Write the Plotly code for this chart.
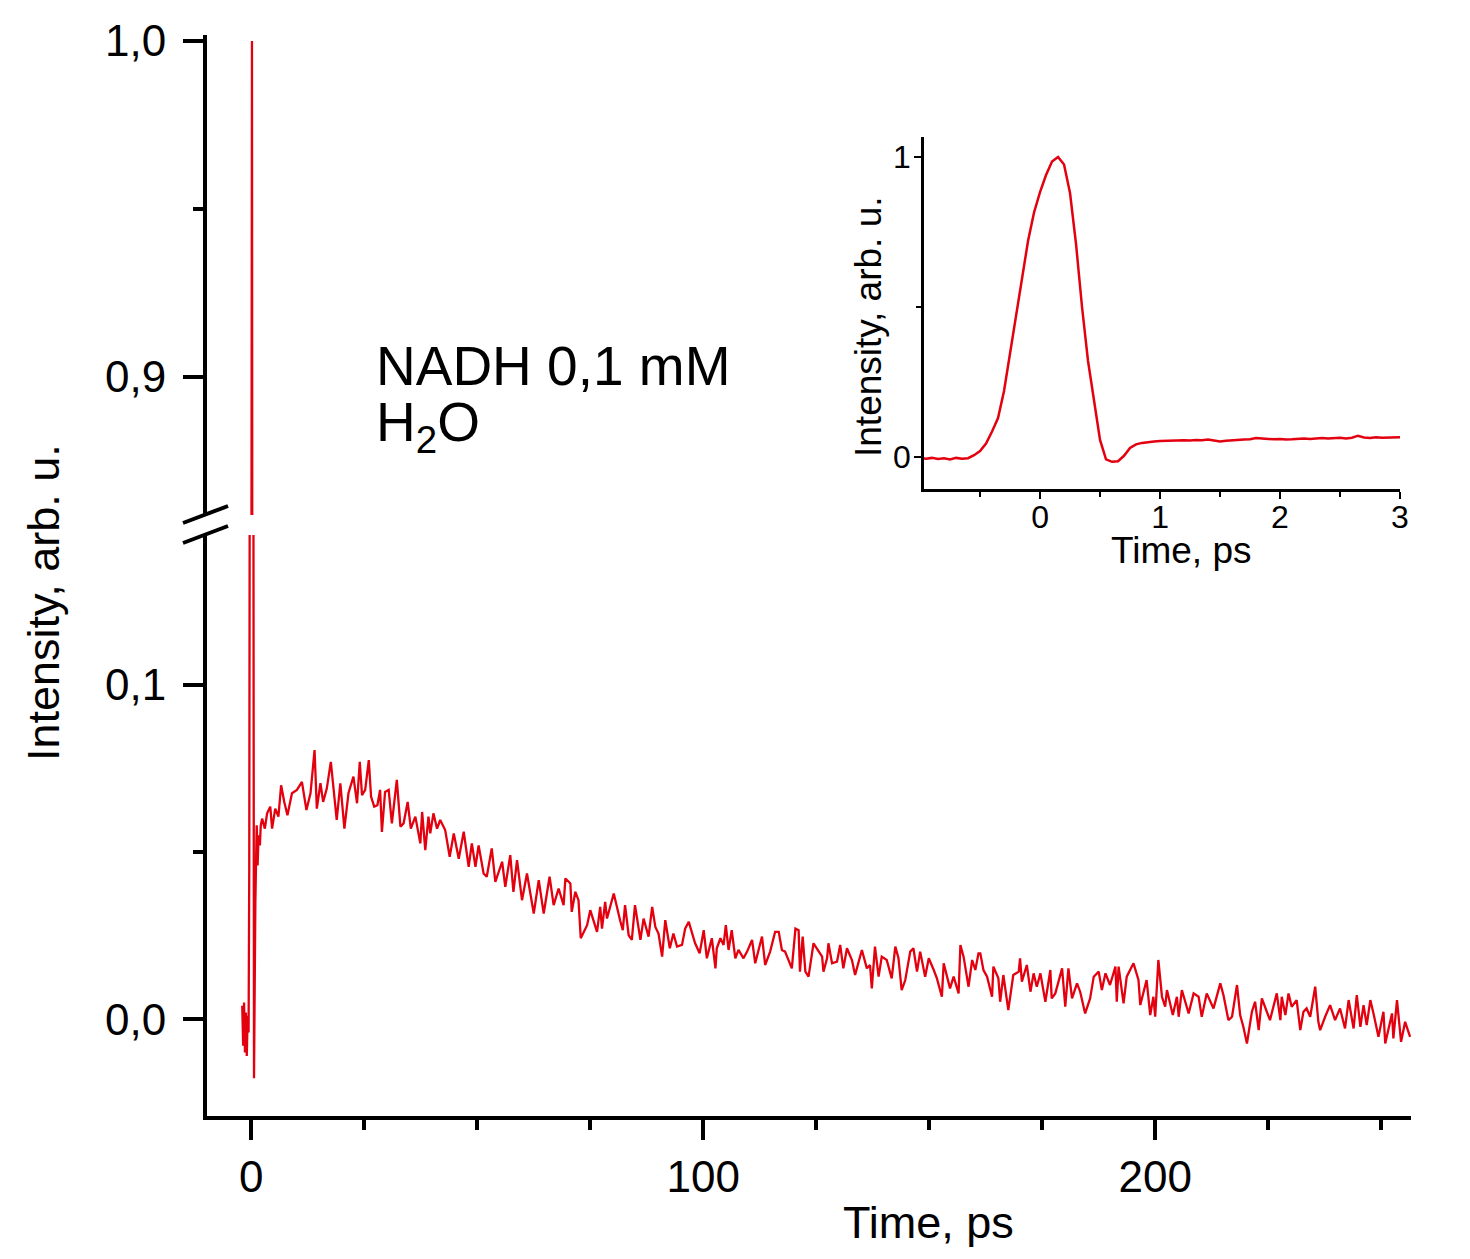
import plotly.graph_objects as go

# colours / fonts
RED = '#E3000F'
FONT = 'Liberation Sans, Arial, sans-serif'
# page has an 8px body margin, so the figure is a bit smaller and positions are shifted
OFF = 8
W, H = 1470 - OFF, 1259 - OFF

# ---- main trace (time in ps, normalised intensity) ----
main_t = [
    -2.0, -1.8, -1.6, -1.4, -1.2, -1.0, -0.8, -0.6, -0.45, -0.3, -0.15, 0.0,
    0.15, 0.3, 0.45, 0.6, 0.9, 1.2, 1.4, 1.6, 1.9, 2.1, 2.4, 3.0,
    3.5, 4.2, 4.6, 5.3, 6.0, 6.6, 7.3, 8.0, 9.0, 10.1, 11.2, 12.2, 13.1, 14.0,
    14.5, 15.3, 15.9, 16.7, 17.6, 18.2, 18.9, 19.7, 20.6, 21.5, 22.6, 23.4,
    24.0, 24.5, 25.2, 26.0, 26.5, 27.2, 27.9, 28.5, 28.9, 29.6, 30.4, 31.1,
    32.2, 33.0, 33.7, 34.6, 35.3, 36.3, 37.4, 37.8, 38.5, 39.2, 39.6, 40.3,
    41.1, 41.8, 42.9, 43.9, 44.8, 45.9, 47.0, 48.1, 48.8, 49.6, 50.3, 51.4,
    52.1, 53.2, 54.0, 55.5, 56.2, 57.3, 58.0, 58.8, 59.9, 61.0, 62.5, 63.6,
    64.7, 66.0, 66.9, 68.0, 69.1, 69.5, 70.6, 70.9, 71.7, 72.4, 72.9, 74.3,
    75.0, 76.5, 77.2, 77.6, 78.3, 78.7, 80.2, 81.6, 82.2, 82.7, 83.5, 84.2,
    84.9, 86.1, 86.8, 87.9, 88.7, 89.4, 90.1, 90.9, 91.6, 92.6, 93.4, 94.2,
    95.3, 96.0, 96.8, 98.2, 99.2, 100.1, 100.8, 101.9, 102.7, 103.0, 103.8,
    104.5, 105.0, 105.6, 106.3, 107.1, 107.8, 108.9, 109.7, 110.8, 111.5,
    113.0, 113.7, 114.8, 115.9, 116.7, 117.4, 118.1, 119.6, 120.4, 121.1,
    121.4, 122.0, 122.6, 123.3, 124.4, 125.1, 126.3, 126.6, 127.4, 127.7,
    128.5, 129.6, 130.3, 131.0, 131.8, 132.9, 133.6, 134.4, 135.1, 136.2,
    136.9, 137.3, 138.0, 138.8, 139.5, 140.6, 141.7, 142.5, 143.2, 143.9,
    144.7, 145.8, 146.5, 147.3, 148.0, 149.1, 149.9, 151.0, 151.7, 152.8,
    153.2, 154.6, 155.4, 156.5, 156.9, 157.6, 158.7, 159.5, 160.2, 160.9,
    161.3, 162.0, 162.8, 163.9, 164.2, 165.3, 165.7, 166.4, 167.5, 168.6,
    169.8, 170.1, 170.5, 171.6, 172.4, 173.1, 173.8, 174.6, 175.7, 176.8,
    177.1, 177.9, 179.4, 180.1, 180.8, 181.6, 182.7, 183.4, 184.5, 185.6,
    186.4, 187.5, 188.2, 189.0, 190.0, 191.2, 191.5, 191.9, 193.0, 193.7,
    195.2, 196.3, 196.7, 198.1, 198.9, 199.6, 200.0, 200.7, 201.5, 202.2,
    202.6, 203.9, 204.8, 205.2, 205.9, 207.4, 208.5, 209.6, 210.3, 211.4,
    212.9, 214.4, 215.1, 216.2, 217.0, 218.1, 218.8, 219.5, 220.3, 221.4,
    222.1, 222.9, 223.6, 224.7, 225.4, 226.9, 227.7, 228.0, 228.8, 229.5,
    230.2, 231.3, 232.1, 232.8, 233.5, 234.3, 235.4, 236.1, 236.5, 237.6,
    238.7, 239.8, 240.9, 242.0, 242.8, 243.9, 244.6, 245.4, 246.1, 246.8,
    247.6, 248.3, 249.4, 250.5, 250.9, 252.4, 252.7, 253.5, 254.4, 255.3, 256.4,
]
main_I = [
    0.004, -0.008, 0.005, -0.010, 0.002, -0.011, 0.001, -0.004, 0.045, 0.22, 0.595, 0.883,
    1.0, 0.71, 0.185, -0.0177, 0.035, 0.058, 0.046, 0.055, 0.052, 0.058, 0.060, 0.057,
    0.0616, 0.0636, 0.057, 0.063, 0.0606, 0.070, 0.065, 0.061, 0.0676, 0.0686, 0.071, 0.0626, 0.0676, 0.0805,
    0.063, 0.0706, 0.065, 0.069, 0.077, 0.0686, 0.0596, 0.0706, 0.057, 0.0676, 0.0726, 0.0646,
    0.077, 0.067, 0.0686, 0.0775, 0.0666, 0.0636, 0.064, 0.0686, 0.056, 0.068, 0.0686, 0.0586,
    0.0716, 0.0576, 0.0586, 0.065, 0.057, 0.0606, 0.0526, 0.062, 0.0506, 0.0606, 0.0556, 0.0616,
    0.057, 0.0596, 0.0566, 0.0486, 0.0556, 0.048, 0.0561, 0.0456, 0.0526, 0.0456, 0.052, 0.0436,
    0.0426, 0.0511, 0.0411, 0.0471, 0.0396, 0.0491, 0.0381, 0.0476, 0.0356, 0.0436, 0.0316, 0.0416,
    0.0316, 0.0426, 0.0341, 0.0391, 0.0341, 0.0421, 0.0406, 0.0321, 0.0381, 0.0356, 0.0242, 0.0281,
    0.0326, 0.0261, 0.0336, 0.0271, 0.0351, 0.0301, 0.0376, 0.0296, 0.0266, 0.0341, 0.0251, 0.0237,
    0.0341, 0.0237, 0.0301, 0.0247, 0.0336, 0.0276, 0.0256, 0.0187, 0.0296, 0.0212, 0.0256, 0.0217,
    0.0222, 0.0271, 0.0291, 0.0227, 0.0197, 0.0266, 0.0182, 0.0242, 0.0152, 0.0212, 0.0242,
    0.0222, 0.0281, 0.0207, 0.0266, 0.0182, 0.0207, 0.0182, 0.0202, 0.0237, 0.0167,
    0.0247, 0.0162, 0.0202, 0.0261, 0.0261, 0.0207, 0.0202, 0.0152, 0.0271, 0.0266,
    0.0142, 0.0247, 0.0142, 0.0127, 0.0227, 0.0212, 0.0187, 0.0142, 0.0182, 0.0227,
    0.0167, 0.0172, 0.0222, 0.0152, 0.0212, 0.0177, 0.0132, 0.0172, 0.0207, 0.0152,
    0.0162, 0.0092, 0.0217, 0.0127, 0.0187, 0.0177, 0.0122, 0.0217, 0.0182, 0.0087,
    0.0117, 0.0202, 0.0212, 0.0142, 0.0202, 0.0127, 0.0182, 0.0147, 0.0122, 0.0067,
    0.0167, 0.0092, 0.0127, 0.0077, 0.0222, 0.0187, 0.0097, 0.0177, 0.0147, 0.0197,
    0.0197, 0.0147, 0.0127, 0.0067, 0.0157, 0.0122, 0.0052, 0.0132, 0.0027, 0.0132,
    0.0142, 0.0182, 0.0112, 0.0162, 0.0082, 0.0137, 0.0097, 0.0137, 0.0052, 0.0147,
    0.0062, 0.0077, 0.0152, 0.0037, 0.0152, 0.0062, 0.0107, 0.0082, 0.0017, 0.0062,
    0.0127, 0.0142, 0.0087, 0.0137, 0.0102, 0.0157, 0.0052, 0.0157, 0.0047, 0.0127,
    0.0167, 0.0117, 0.0042, 0.0117, 0.0012, 0.0067, 0.0007, 0.0177, 0.0067, 0.0037,
    0.0087, 0.0012, 0.0067, 0.0007, 0.0087, 0.0017, 0.0077, 0.0067, 0.0007, 0.0077,
    0.0032, 0.0107, 0.0072, -0.0003, 0.0007, 0.0102, 0.0012, -0.0023, -0.0073, 0.0022,
    0.0052, -0.0033, 0.0062, 0.0022, -0.0003, 0.0077, -0.0003, 0.0067, 0.0012, 0.0077,
    0.0037, 0.0057, -0.0033, 0.0022, 0.0032, 0.0007, 0.0097, -0.0008, -0.0033, 0.0007,
    0.0042, -0.0003, 0.0032, -0.0028, 0.0057, -0.0028, 0.0072, -0.0023, 0.0042, -0.0018,
    0.0057, 0.0017, -0.0053, 0.0022, -0.0073, 0.0017, -0.0058, 0.0057, -0.0068, -0.0008, -0.0053,
]

# ---- inset trace (first 3 ps) ----
inset_t = [
    -1.00, -0.95, -0.90, -0.85, -0.80, -0.75, -0.70, -0.65, -0.60, -0.55,
    -0.50, -0.45, -0.40, -0.35, -0.30, -0.25, -0.20, -0.15, -0.10, -0.05,
    0.00, 0.05, 0.10, 0.15, 0.20, 0.25, 0.30, 0.35, 0.40, 0.45,
    0.50, 0.55, 0.60, 0.65, 0.70, 0.75, 0.80, 0.85, 0.90, 0.95,
    1.00, 1.05, 1.10, 1.15, 1.20, 1.25, 1.30, 1.35, 1.40, 1.45,
    1.50, 1.55, 1.60, 1.65, 1.70, 1.75, 1.80, 1.85, 1.90, 1.95,
    2.00, 2.05, 2.10, 2.15, 2.20, 2.25, 2.30, 2.35, 2.40, 2.45,
    2.50, 2.55, 2.60, 2.65, 2.70, 2.75, 2.80, 2.85, 2.90, 2.95, 3.00,
]
inset_I = [
    -0.004, -0.006, -0.003, -0.007, -0.004, -0.008, -0.003, -0.006, -0.004, 0.006,
    0.020, 0.045, 0.085, 0.130, 0.220, 0.350, 0.480, 0.595, 0.720, 0.815,
    0.883, 0.940, 0.985, 1.000, 0.975, 0.880, 0.710, 0.500, 0.320, 0.185,
    0.057, -0.008, -0.016, -0.014, 0.004, 0.030, 0.042, 0.047, 0.050, 0.052,
    0.053, 0.054, 0.055, 0.054, 0.056, 0.055, 0.057, 0.056, 0.058, 0.055,
    0.052, 0.054, 0.056, 0.057, 0.058, 0.059, 0.063, 0.062, 0.060, 0.059,
    0.060, 0.058, 0.059, 0.061, 0.062, 0.060, 0.062, 0.063, 0.062, 0.063,
    0.064, 0.062, 0.064, 0.071, 0.065, 0.063, 0.066, 0.064, 0.065, 0.066, 0.066,
]


def fx(p):
    # screen pixel -> paper fraction
    return (p - OFF) / W


def fy(p):
    return 1 - (p - OFF) / H


fig = go.Figure()

# lower and upper panels of the broken axis show the same curve
fig.add_trace(go.Scatter(x=main_t, y=main_I, mode='lines', xaxis='x', yaxis='y',
                         line=dict(color=RED, width=2.3), showlegend=False))
fig.add_trace(go.Scatter(x=main_t, y=main_I, mode='lines', xaxis='x2', yaxis='y2',
                         line=dict(color=RED, width=2.3), showlegend=False))
fig.add_trace(go.Scatter(x=inset_t, y=inset_I, mode='lines', xaxis='x3', yaxis='y3',
                         line=dict(color=RED, width=2.5), showlegend=False))

main_ax = dict(showline=True, linewidth=4, linecolor='black', ticks='outside',
               ticklen=20, tickwidth=4, tickcolor='black', showgrid=False,
               zeroline=False, automargin=False, tickfont=dict(size=44, color='black'))
inset_ax = dict(showline=True, linewidth=2.5, linecolor='black', ticks='outside',
                ticklen=7, tickwidth=2, tickcolor='black', showgrid=False,
                zeroline=False, automargin=False, tickfont=dict(size=32, color='black'))
main_minor = dict(ticks='outside', ticklen=10, tickwidth=4, tickcolor='black')
inset_minor = dict(ticks='outside', ticklen=5, tickwidth=2, tickcolor='black')

xdom = [fx(207), fx(1411)]
xrng = [-9.8, 256.6]

fig.update_layout(
    width=W, height=H,
    margin=dict(l=0, r=0, t=0, b=0),
    paper_bgcolor='white', plot_bgcolor='rgba(0,0,0,0)',
    font=dict(family=FONT, color='black'),
    separators=',.',
    xaxis=dict(main_ax, domain=xdom, range=xrng, anchor='y',
               tickvals=[0, 100, 200], ticklabelstandoff=-1,
               minor=dict(main_minor, tickvals=[25, 50, 75, 125, 150, 175, 225, 250])),
    xaxis2=dict(domain=xdom, range=xrng, anchor='y2', visible=False),
    yaxis=dict(main_ax, domain=[fy(1116), fy(535)], range=[-0.0290, 0.1449], anchor='x',
               tickvals=[0, 0.1], tickformat='.1f', ticklabelstandoff=8,
               minor=dict(main_minor, tickvals=[0.05])),
    yaxis2=dict(main_ax, domain=[fy(515), fy(35)], range=[0.8589, 1.0018], anchor='x2',
                tickvals=[0.9, 1.0], tickformat='.1f', ticklabelstandoff=8,
                minor=dict(main_minor, tickvals=[0.95])),
    xaxis3=dict(inset_ax, domain=[fx(924), fx(1400)], range=[-0.967, 3.0], anchor='y3',
                tickvals=[0, 1, 2, 3], ticklabelstandoff=-9,
                minor=dict(inset_minor, tickvals=[-0.5, 0.5, 1.5, 2.5])),
    yaxis3=dict(inset_ax, domain=[fy(489), fy(137)], range=[-0.1067, 1.0667], anchor='x3',
                tickvals=[0, 1], ticklabelstandoff=-3,
                minor=dict(inset_minor, tickvals=[0.5])),
)

# axis break marks
for y0, y1 in [(523, 506), (543, 526)]:
    fig.add_shape(type='line', xref='paper', yref='paper',
                  x0=fx(183), y0=fy(y0), x1=fx(228), y1=fy(y1),
                  line=dict(color='black', width=4))

ann = [
    dict(text='Intensity, arb. u.', x=fx(43), y=fy(603), textangle=-90,
         font=dict(size=45), xanchor='center', yanchor='middle'),
    dict(text='Time, ps', x=fx(929), y=fy(1222), font=dict(size=45),
         xanchor='center', yanchor='middle'),
    dict(text='NADH 0,1 mM', x=fx(374), y=fy(366), font=dict(size=55),
         xanchor='left', yanchor='middle'),
    dict(text='H<sub>2</sub>O', x=fx(374), y=fy(426), font=dict(size=55),
         xanchor='left', yanchor='middle'),
    dict(text='Time, ps', x=fx(1181), y=fy(550), font=dict(size=37),
         xanchor='center', yanchor='middle'),
    dict(text='Intensity, arb. u.', x=fx(868), y=fy(327), textangle=-90,
         font=dict(size=37), xanchor='center', yanchor='middle'),
]
for a in ann:
    fig.add_annotation(a, xref='paper', yref='paper', showarrow=False)

fig.write_html("out.html")
